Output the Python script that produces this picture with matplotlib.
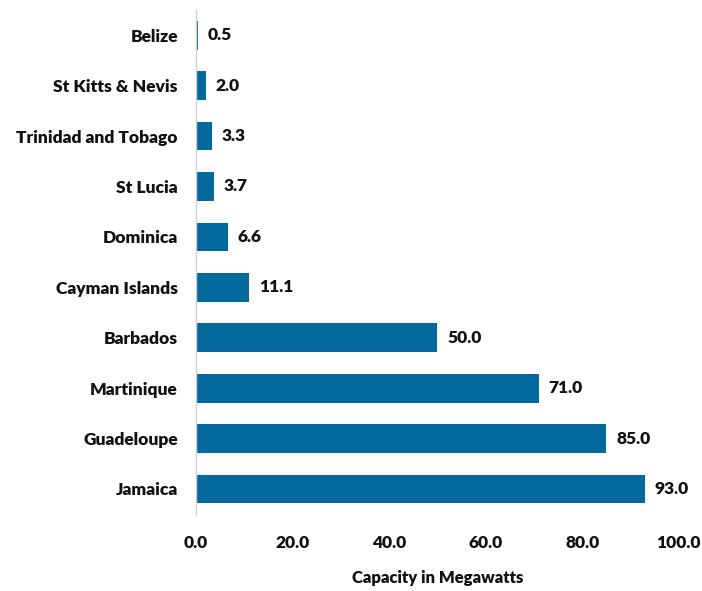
import matplotlib.pyplot as plt

plt.rcParams['font.family'] = ['Lato', 'DejaVu Sans']
plt.rcParams['font.weight'] = 'heavy'

countries = ['Belize', 'St Kitts & Nevis', 'Trinidad and Tobago', 'St Lucia',
             'Dominica', 'Cayman Islands', 'Barbados', 'Martinique',
             'Guadeloupe', 'Jamaica']
capacity = [0.5, 2.0, 3.3, 3.7, 6.6, 11.1, 50.0, 71.0, 85.0, 93.0]
xticks = [0, 20, 40, 60, 80, 100]

bar_color = '#046a9e'
txt = '#111111'

fig = plt.figure(figsize=(7.02, 5.91), dpi=100)
ax = fig.add_axes([0.279, 0.130, 0.688, 0.853])

ypos = range(len(countries))
ax.barh(ypos, capacity, height=0.57, color=bar_color)
for y, v in zip(ypos, capacity):
    ax.text(v + 2.0, y, f'{v:.1f}', va='center', ha='left',
            fontsize=12.5, fontweight='heavy', color=txt)

ax.set_ylim(len(countries) - 0.5, -0.5)
ax.set_yticks(list(ypos))
ax.set_yticklabels(countries, fontsize=12.5, fontweight='heavy', color=txt)
ax.set_xlim(0, 100)
ax.set_xticks(xticks)
ax.set_xticklabels([f'{t:.1f}' for t in xticks], fontsize=12.5,
                   fontweight='heavy', color=txt)
ax.tick_params(axis='both', length=0)
ax.tick_params(axis='y', pad=13)
ax.tick_params(axis='x', pad=15)

for side in ['top', 'right', 'bottom']:
    ax.spines[side].set_visible(False)
ax.spines['left'].set_color('#d0d0d0')
ax.spines['left'].set_linewidth(1.0)

ax.set_xlabel('Capacity in Megawatts', fontsize=12, fontweight='heavy',
              color=txt)
ax.xaxis.set_label_coords(0.5, -0.111)

fig.savefig('out.png', dpi=100)
